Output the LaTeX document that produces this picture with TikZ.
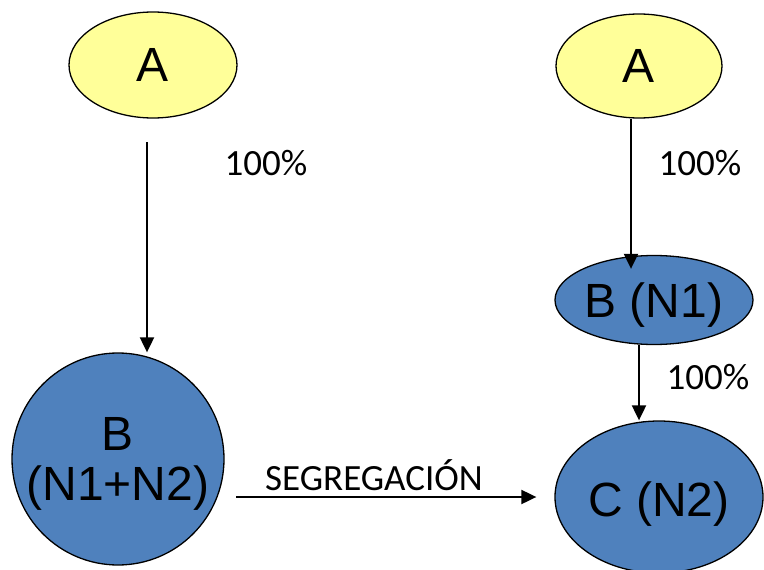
\documentclass[tikz,border=0pt]{standalone}
\usepackage{fontspec}
\setmainfont{Liberation Sans}
\newfontfamily\calib{Carlito}
\usetikzlibrary{shapes.geometric,arrows.meta}
\definecolor{ylw}{HTML}{FFFF99}
\definecolor{blu}{HTML}{4F81BD}
\begin{document}
\begin{tikzpicture}[x=1pt,y=-1pt,
  nd/.style={draw=black, line width=1.3pt, ellipse, inner sep=0pt, align=center,
    text depth=0pt, font=\fontsize{48}{50}\selectfont},
  ynd/.style={nd, fill=ylw},
  bnd/.style={nd, fill=blu},
  arr/.style={line width=2pt, -{Triangle[length=15pt,width=14pt]}},
  lbl/.style={font=\calib\fontsize{37}{40}\selectfont, inner sep=0pt}]
\useasboundingbox (0,0) rectangle (764,570);
% nodes
\node[ynd, minimum width=168, minimum height=106] (a1) at (153,65) {A};
\node[ynd, minimum width=166, minimum height=104] (a2) at (639,66) {A};
\node[bnd, circle, minimum size=212] (b) at (118,459) {B\\(N1+N2)};
\node[bnd, minimum width=198, minimum height=89] (b1) at (654,300) {B (N1)};
\node[bnd, minimum width=208, minimum height=152] (c) at (659,497) {\raisebox{-5pt}{C (N2)}};
% labels
\node[lbl] (l1) at (266,163) {100\%};
\node[lbl] (l2) at (700,163) {100\%};
\node[lbl] (l3) at (708,377) {100\%};
\node[lbl] (l4) at (374,475) {SEGREGACIÓN};
% connectors
\coordinate (s1) at (147,142);
\draw[arr] (s1) -- (s1 |- b.north);
\draw[arr] ([xshift=-8pt]a2.south) -- ([xshift=-23pt,yshift=-14pt]b1.north);
\draw[arr] ([xshift=-15pt]b1.south) -- ([xshift=-15pt]b1.south |- c.north);
\coordinate (s3) at (236,497);
\draw[arr, shorten >=18pt] (s3) -- (s3 -| c.west);
\end{tikzpicture}
\end{document}
